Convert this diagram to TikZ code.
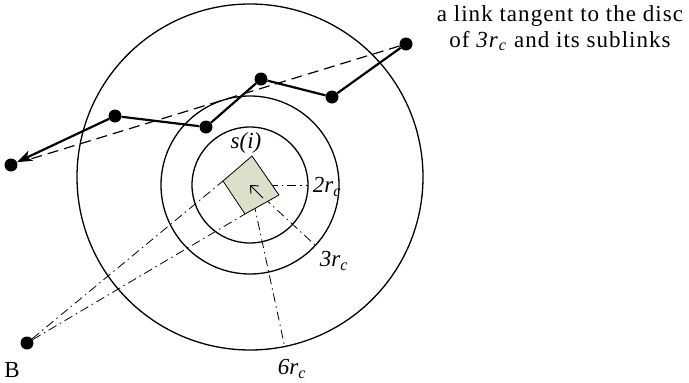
\documentclass[tikz,border=0pt]{standalone}
\usepackage{fontspec}
\setmainfont{Liberation Serif}
\usetikzlibrary{arrows.meta}
\definecolor{cellfill}{RGB}{220,224,202}
\newcommand{\rc}[1]{\textit{#1r}\textsubscript{\textit{c}}}

\begin{document}
\begin{tikzpicture}[x=1pt, y=-1pt, font=\fontsize{23}{26}\selectfont, ring/.style={line width=1.3pt}, hop/.style={line width=2.2pt}, guide/.style={line width=0.8pt, dash pattern=on 9pt off 4pt on 1.5pt off 4pt}, chord/.style={line width=1.2pt, dash pattern=on 11pt off 6pt}, dot/.style={circle, fill, inner sep=0pt, minimum size=13pt}, lbl/.style={inner sep=1pt}]
\useasboundingbox (0,0) rectangle (689,383);
% discs round the cell
\coordinate (o) at (250,185);
\draw[ring] (o) circle[radius=58pt];
\draw[ring] (o) circle[radius=89pt];
\draw[ring] (250,177) circle[radius=173pt];
% radii
\coordinate (r2) at (308,185);
\coordinate (r3) at (315,245);
\coordinate (r6) at (285,348);
\draw[guide] (o) -- (r2); \draw[guide] (o) -- (r3); \draw[guide] (o) -- (r6);
% cell s(i)
\coordinate (k1) at (252,156); \coordinate (k2) at (279,195); \coordinate (k3) at (245,214); \coordinate (k4) at (223,181);
\node[dot] (b) at (27,343) {};
\draw[guide] (b) -- (k4); \draw[guide] (b) -- (k3);
\filldraw[fill=cellfill, line width=0.8pt] (k1) -- (k2) -- (k3) -- (k4) -- cycle;
\coordinate (tail) at (263,198); \coordinate (head) at (250,185);
\draw[line width=1pt, -{Straight Barb[length=6pt, width=11pt]}] (tail) -- (head);
% the link and its sublinks
\node[dot] (p1) at (11,165) {};
\node[dot] (p2) at (115,116) {};
\node[dot] (p3) at (206,127) {};
\node[dot] (p4) at (261,79) {};
\node[dot] (p5) at (332,97) {};
\node[dot] (p6) at (406,44) {};
\draw[chord, shorten >=12pt] (p6) -- (p1);
\draw[hop] (p6) -- (p5) -- (p4) -- (p3) -- (p2);
\draw[hop, -{Stealth[length=15pt, width=11pt, inset=4pt]}] (p2) -- (p1);
% labels
\node[lbl] (si) at (246,143) {\textit{s(i)}};
\node[lbl] (l2) at (327,187) {\rc{2}};
\node[lbl] (l3) at (334,261) {\rc{3}};
\node[lbl] (l6) at (292,369) {\rc{6}};
\node[lbl] (lb) at (12,370) {B};
\node[lbl, align=center, font=\fontsize{23}{26}\selectfont\addfontfeature{LetterSpace=4.5}] (note) at (560,28) {a link tangent to the disc\\of \rc{3} and its sublinks};
\end{tikzpicture}
\end{document}
